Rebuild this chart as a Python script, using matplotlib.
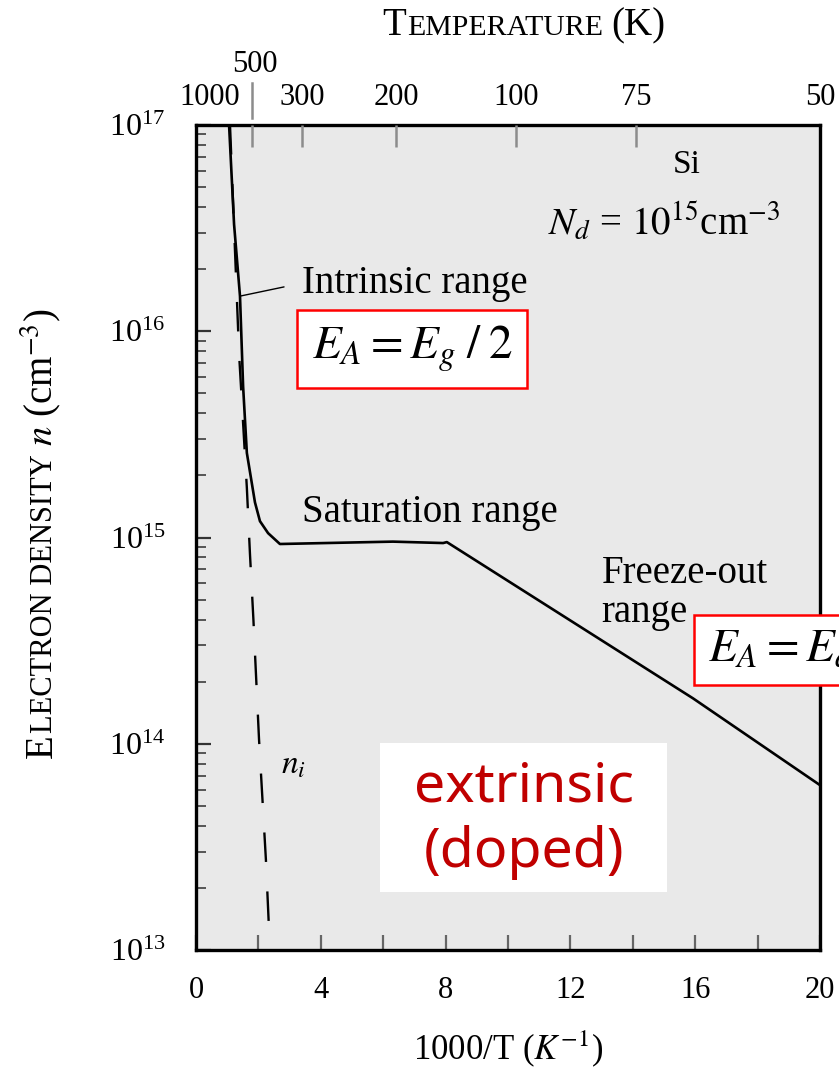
import matplotlib
matplotlib.use("Agg")
import matplotlib.pyplot as plt
import matplotlib.ticker as mticker
from matplotlib.patches import Rectangle
from matplotlib.text import Annotation

plt.rcParams['font.family'] = ['Liberation Serif', 'DejaVu Serif']
plt.rcParams['mathtext.fontset'] = 'stix'

# electron density of Si, Nd = 1e15 cm^-3 (solid curve)
inv_t = [1.06, 1.22, 1.41, 1.51, 1.63, 1.89, 2.05, 2.31, 2.69, 6.31, 7.92, 8.04, 15.93, 20.0]
n_e = [1e17, 3.3e16, 1.48e16, 5.4e15, 2.57e15, 1.48e15, 1.2e15, 1.05e15,
       9.3e14, 9.55e14, 9.4e14, 9.5e14, 1.66e14, 6.3e13]

# intrinsic density n_i (dashed curve)
inv_t_i = [1.09, 1.38, 1.63, 1.73, 1.84, 2.02, 2.24, 2.37]
n_i = [1e17, 7.8e15, 1.74e15, 8.3e14, 4.0e14, 1.05e14, 2.75e13, 1e13]

# top axis: temperature ticks where the original figure draws them
temp_tick_pos = [1.80, 3.41, 6.41, 10.26, 14.10]
temp_tick_labels = ['', '300', '200', '100', '75']
# labels without a tick mark (1000 K shifted left, 50 K on the right edge)
extra_labels = ['1000', '50']
extra_label_pos = [0.45, 20.0]
t500_pos = 1.80

W, H = 839, 1068
fig = plt.figure(figsize=(W / 100, H / 100), dpi=100)
ax = fig.add_axes([196 / W, 118 / H, 624 / W, 825 / H])
ax.set_facecolor('#e9e9e9')

ax.plot(inv_t, n_e, color='black', lw=1.9, zorder=3)
ax.plot(inv_t_i, n_i, color='black', lw=1.7, dashes=(12.5, 12.5), zorder=3)

ax.set_xlim(0, 20)
ax.set_yscale('log')
ax.set_ylim(1e13, 1e17)

ax.xaxis.set_major_locator(mticker.MultipleLocator(4))
ax.xaxis.set_minor_locator(mticker.MultipleLocator(2))
ax.yaxis.set_major_locator(mticker.LogLocator(base=10, numticks=10))
ax.yaxis.set_minor_locator(mticker.LogLocator(base=10, subs=range(2, 10), numticks=20))
ax.yaxis.set_minor_formatter(mticker.NullFormatter())

ax.tick_params(axis='x', which='both', direction='in', length=11, width=1.6,
               color='#666666', labelsize=22, pad=19)
ax.tick_params(axis='y', which='major', direction='in', length=11, width=1.6,
               color='#333333', labelsize=23, pad=22)
ax.tick_params(axis='y', which='minor', direction='in', length=7, width=1.4,
               color='#555555')

for s in ax.spines.values():
    s.set_linewidth(2.4)
    s.set_color('black')

ax.set_xlabel(r'1000/T ($K^{-1}$)', fontsize=25, labelpad=16)

# top temperature axis
ax_top = ax.twiny()
ax_top.set_xlim(0, 20)
ax_top.set_xticks(temp_tick_pos)
ax_top.set_xticklabels(temp_tick_labels)
ax_top.tick_params(axis='x', which='major', direction='in', length=16, width=1.8,
                   color='#8c8c8c', labelsize=22, pad=9)
for s in ax_top.spines.values():
    s.set_visible(False)

top_tr = ax_top.get_xaxis_transform()
for lab, pos in zip(extra_labels, extra_label_pos):
    ax_top.annotate(lab, xy=(pos, 1.0), xycoords=top_tr, xytext=(0, 9),
                    textcoords='offset points', ha='center', va='bottom',
                    fontsize=22, annotation_clip=False)

ax_top.text(1.89, 1.073, '500', transform=top_tr, ha='center', va='center', fontsize=22)
ax_top.plot([t500_pos, t500_pos], [1.009, 1.051], transform=top_tr,
            color='#8c8c8c', lw=1.8, clip_on=False)

# small-caps style title and y label
t1 = fig.text(382 / W, 1 - 35 / H, 'T', fontsize=28, ha='left', va='baseline')
t2 = fig.add_artist(Annotation(
    'EMPERATURE', xy=(1.0, 1 - 35 / H), xycoords=(t1, 'figure fraction'),
    xytext=(1, 0), textcoords='offset points', fontsize=21.5, ha='left', va='baseline'))
fig.add_artist(Annotation(
    '(K)', xy=(1.0, 1 - 35 / H), xycoords=(t2, 'figure fraction'),
    xytext=(6, 0), textcoords='offset points', fontsize=28, ha='left', va='baseline'))

y1 = fig.text(52 / W, 1 - 758 / H, 'E', fontsize=28, rotation=90,
              rotation_mode='anchor', ha='left', va='baseline')
y2 = fig.add_artist(Annotation(
    'LECTRON DENSITY', xy=(52 / W, 1.0), xycoords=('figure fraction', y1),
    xytext=(0, 1), textcoords='offset points', fontsize=22, rotation=90,
    rotation_mode='anchor', ha='left', va='baseline'))
fig.add_artist(Annotation(
    r'$n$ (cm$^{-3}$)', xy=(52 / W, 1.0), xycoords=('figure fraction', y2),
    xytext=(0, 6), textcoords='offset points', fontsize=28, rotation=90,
    rotation_mode='anchor', ha='left', va='baseline'))

# annotations inside the plot
ax.annotate('Intrinsic range', xy=(1.41, 1.48e16), xytext=(3.39, 1.71e16),
            fontsize=28, ha='left', va='center',
            arrowprops=dict(arrowstyle='-', color='black', lw=1.0,
                            shrinkA=11, shrinkB=0, relpos=(0, 0.5)))
ax.text(3.39, 1.32e15, 'Saturation range', fontsize=28, ha='left', va='center')
ax.text(13.0, 6.7e14, 'Freeze-out', fontsize=28, ha='left', va='center')
ax.text(13.0, 4.35e14, 'range', fontsize=28, ha='left', va='center')
ax.text(15.74, 6.4e16, 'Si', fontsize=24, ha='center', va='center')
ax.text(11.28, 3.35e16, r'$N_d$ = $10^{15}$cm$^{-3}$', fontsize=28,
        ha='left', va='center')
ax.text(2.72, 7.9e13, r'$n_i$', fontsize=24, ha='left', va='center')

red_box = dict(boxstyle='square,pad=0.3', facecolor='white', edgecolor='#ff0000', lw=1.8)
ax.text(6.93, 8.2e15, r'$E_A = E_g\;/\;2$', fontsize=34, ha='center', va='center',
        bbox=red_box, zorder=5)
ax.text(16.4, 2.85e14, r'$E_A = E_d$', fontsize=34, ha='left', va='center',
        bbox=red_box, zorder=5, clip_on=False)

ax.add_patch(Rectangle((0.295, 0.0703), 0.46, 0.1806, transform=ax.transAxes,
                       facecolor='white', edgecolor='none', zorder=4))
ax.text(0.525, 0.1976, 'extrinsic', transform=ax.transAxes, fontsize=40,
        color='#c00000', family='Noto Sans', ha='center', va='center', zorder=5)
ax.text(0.525, 0.1176, '(doped)', transform=ax.transAxes, fontsize=40,
        color='#c00000', family='Noto Sans', ha='center', va='center', zorder=5)

fig.savefig('out.png', dpi=100)
